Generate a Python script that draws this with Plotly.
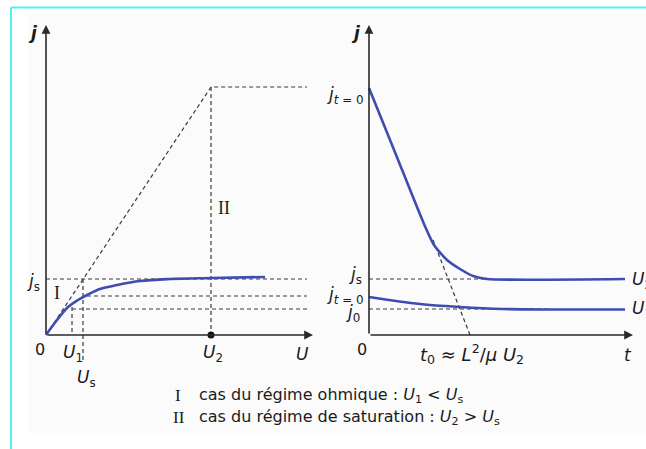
import plotly.graph_objects as go

W, H = 646, 449

# ---------------- data (left panel: j versus U) ----------------
curve_U = [0, 1.1, 2.2, 3.2, 4.1, 5.4, 7.1, 9.4, 12.4, 16.5, 21.9]
curve_j = [0, 1.5, 2.8, 3.5, 4.0, 4.6, 5.0, 5.4, 5.6, 5.7, 5.8]
ohm_U = [0, 16.5, 26.1]
ohm_j = [0, 24.8, 24.8]
U1, Us, U2 = 2.6, 3.7, 16.5
js, j_us, j_u1 = 5.6, 3.9, 2.6
U_end = 26.1
U_axis_end = 26.7
j_axis_end = 31.0

# ---------------- data (right panel: j versus t) ----------------
t_U2 = [0, 2.75, 5.5, 6.5, 7.8, 9.1, 10.4, 11.8, 25.6]
j_U2 = [24.7, 17.9, 11.1, 9.0, 7.5, 6.6, 5.9, 5.6, 5.6]
t_U1 = [0, 5.1, 9.1, 13.4, 18.4, 25.6]
j_U1 = [3.8, 3.1, 2.8, 2.6, 2.55, 2.55]
tan_t = [6.4, 10.1]
tan_j = [9.5, 0]
j0 = 2.6
t0 = 10.1
t_axis_end = 26.4

BLUE = "#3f4cb0"
DASH = "#3a3a3a"
AX = "#2a2a2a"

fig = go.Figure()

def dashed(x, y, xa, ya):
    fig.add_trace(go.Scatter(x=x, y=y, mode="lines", xaxis=xa, yaxis=ya,
                             line=dict(color=DASH, width=1.2, dash="4px,3px"),
                             hoverinfo="skip", showlegend=False))

# left panel dashed guides
dashed(ohm_U, ohm_j, "x", "y")
dashed([U2, U2], [ohm_j[1], 0], "x", "y")
dashed([0, U_end], [js, js], "x", "y")
dashed([4.1, U_end], [j_us, j_us], "x", "y")
dashed([U1, U_end], [j_u1, j_u1], "x", "y")
dashed([U1, U1], [2.8, 0], "x", "y")
dashed([Us, Us], [js, -2.5], "x", "y")

# left curve
fig.add_trace(go.Scatter(x=curve_U, y=curve_j, mode="lines", line=dict(color=BLUE, width=2.6, shape="spline"),
                         hoverinfo="skip", showlegend=False))
# U2 dot
fig.add_trace(go.Scatter(x=[U2], y=[0], mode="markers", marker=dict(color="#111", size=7),
                         hoverinfo="skip", showlegend=False))

# right panel dashed guides
dashed([0, 11.8], [js, js], "x2", "y2")
dashed([0, 18.0], [j0, j0], "x2", "y2")
dashed(tan_t, tan_j, "x2", "y2")

fig.add_trace(go.Scatter(x=t_U2, y=j_U2, mode="lines", xaxis="x2", yaxis="y2",
                         line=dict(color=BLUE, width=2.6, shape="spline", smoothing=0.6),
                         hoverinfo="skip", showlegend=False))
fig.add_trace(go.Scatter(x=t_U1, y=j_U1, mode="lines", xaxis="x2", yaxis="y2",
                         line=dict(color=BLUE, width=2.6, shape="spline"),
                         hoverinfo="skip", showlegend=False))

ann = []

def arrow(xa, ya, x0, y0, x1, y1):
    ann.append(dict(x=x1, y=y1, ax=x0, ay=y0, xref=xa, yref=ya, axref=xa, ayref=ya,
                    showarrow=True, arrowhead=2, arrowsize=1.1, arrowwidth=1.6,
                    arrowcolor=AX, text=""))

arrow("x", "y", 0, 0, 0, j_axis_end)
arrow("x", "y", 0, 0, U_axis_end, 0)
arrow("x2", "y2", 0, 0, 0, j_axis_end)
arrow("x2", "y2", 0, 0, t_axis_end, 0)

SANS = "DejaVu Sans, Arial, sans-serif"
SERIF = "Liberation Serif, Times New Roman, serif"

def label(px, py, text, size=17, font=SANS, xanchor="center", color="#1a1a1a"):
    ann.append(dict(x=px / W, y=1 - py / H, xref="paper", yref="paper", text=text,
                    showarrow=False, xanchor=xanchor, yanchor="middle",
                    font=dict(family=font, size=size, color=color)))

# left labels
label(33, 33, "<b><i>j</i></b>", 17)
label(33, 282, "<i>j</i><sub>s</sub>", 17)
label(57, 293, "I", 18, SERIF)
label(224, 208, "II", 18, SERIF)
label(40, 349, "0", 16)
label(73, 353, "<i>U</i><sub>1</sub>", 17)
label(86, 378, "<i>U</i><sub>s</sub>", 17)
label(213, 353, "<i>U</i><sub>2</sub>", 17)
label(302, 354, "<i>U</i>", 17)

# right labels
label(356, 33, "<b><i>j</i></b>", 17)
label(366, 96, "<i>j</i><sub><i>t</i> = 0</sub>", 17, xanchor="right")
label(364, 275, "<i>j</i><sub>s</sub>", 17, xanchor="right")
label(366, 295, "<i>j</i><sub><i>t</i> = 0</sub>", 17, xanchor="right")
label(362, 313, "<i>j</i><sub>0</sub>", 17, xanchor="right")
label(362, 349, "0", 16)
label(472, 354, "<i>t</i><sub>0</sub> ≈ <i>L</i><sup>2</sup>/<i>μ U</i><sub>2</sub>", 18)
label(628, 355, "<i>t</i>", 17)
label(630, 280, "<i>U</i><sub>2</sub>", 17, xanchor="left")
label(630, 309, "<i>U</i><sub>1</sub>", 17, xanchor="left")

# footer
label(173, 395, "I", 17, SERIF, xanchor="left")
label(197, 395, "cas du régime ohmique : <i>U</i><sub>1</sub> &lt; <i>U</i><sub>s</sub>", 16, xanchor="left")
label(171, 417, "II", 17, SERIF, xanchor="left")
label(197, 417, "cas du régime de saturation : <i>U</i><sub>2</sub> &gt; <i>U</i><sub>s</sub>", 16, xanchor="left")

shapes = [
    dict(type="rect", xref="paper", yref="paper", x0=28 / W, x1=1.0, y0=1 - 433 / H, y1=1 - 14 / H,
         fillcolor="#fbfbfb", line=dict(width=0), layer="below"),
    dict(type="line", xref="paper", yref="paper", x0=11 / W, x1=1.0, y0=1 - 7.5 / H, y1=1 - 7.5 / H,
         line=dict(color="#4df2f5", width=2)),
    dict(type="line", xref="paper", yref="paper", x0=11 / W, x1=11 / W, y0=0, y1=1 - 7.5 / H,
         line=dict(color="#4df2f5", width=2)),
]

axis_common = dict(visible=False, showgrid=False, zeroline=False, fixedrange=True)
fig.update_layout(
    width=W, height=H,
    margin=dict(l=0, r=0, t=0, b=0),
    paper_bgcolor="white", plot_bgcolor="rgba(0,0,0,0)",
    xaxis=dict(domain=[0, 0.5], range=[-4.6, 27.7], **axis_common),
    yaxis=dict(domain=[0, 1 - 25 / H], range=[-11.4, 31.0], **axis_common),
    xaxis2=dict(domain=[0.5, 1.0], range=[-4.6, 27.7], **axis_common),
    yaxis2=dict(domain=[0, 1 - 25 / H], range=[-11.4, 31.0], anchor="x2", **axis_common),
    annotations=ann, shapes=shapes, showlegend=False,
)
fig.update_traces(cliponaxis=False)

fig.write_html("out.html", config={"displayModeBar": False},
               post_script="document.body.style.margin='0';document.body.style.overflow='hidden';")
